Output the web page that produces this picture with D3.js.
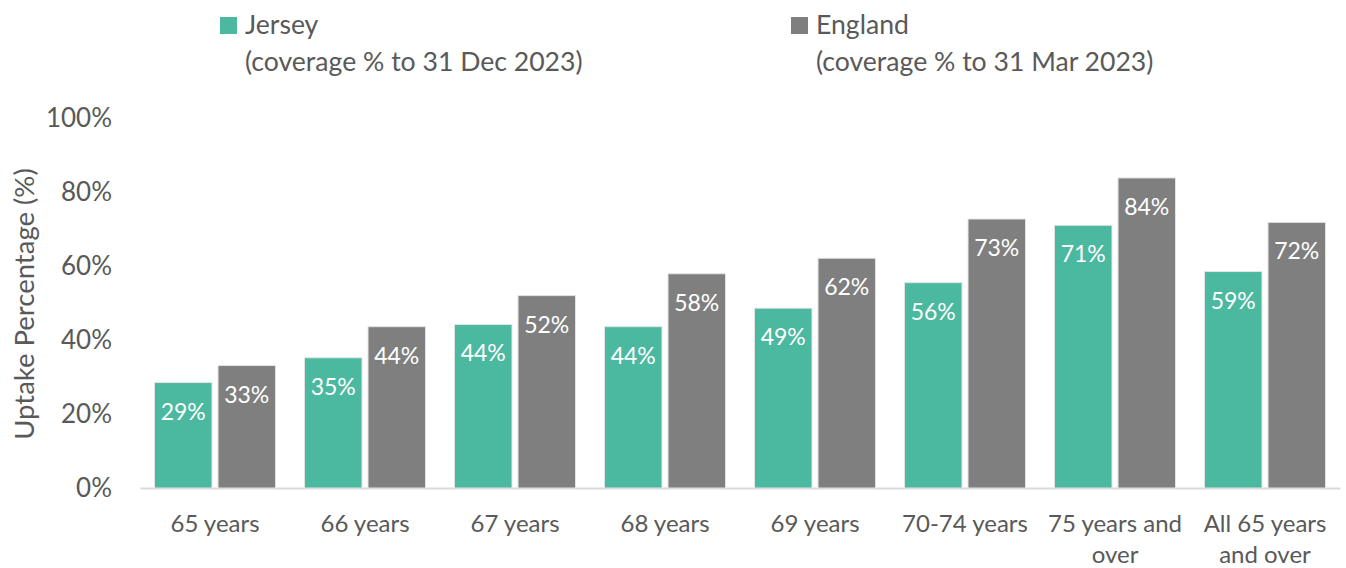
<!DOCTYPE html>
<html>
<head>
<meta charset="utf-8">
<script src="https://cdn.jsdelivr.net/npm/d3@7"></script>
<style>
  body { margin: 0; background: #fff; }
  text { font-family: Lato, "Open Sans", sans-serif; fill: #595959; }
</style>
</head>
<body>
<div id="chart"></div>
<script>
var svgWidth = 1346;
var svgHeight = 568;

var categories = ['65 years', '66 years', '67 years', '68 years', '69 years',
                  '70-74 years', '75 years and over', 'All 65 years and over'];
var jersey = [28.5, 35.2, 44.2, 43.6, 48.6, 55.5, 71.0, 58.5];
var england = [33.1, 43.6, 52.0, 57.9, 62.1, 72.7, 83.8, 71.8];
var seriesNames = ['Jersey', 'England'];
var seriesNotes = ['(coverage % to 31 Dec 2023)', '(coverage % to 31 Mar 2023)'];
var colors = ['#4bb8a0', '#7f7f7f'];
var yTicks = [0, 20, 40, 60, 80, 100];

var leftMargin = 140;
var rightMargin = 6;
var topMargin = 118;
var bottomMargin = 80;

var chartWidth = svgWidth - leftMargin - rightMargin;
var chartHeight = svgHeight - topMargin - bottomMargin;

var svg = d3.select('#chart')
    .append('svg')
    .attr('width', svgWidth)
    .attr('height', svgHeight);

var chart = svg.append('g')
    .attr('transform', `translate(${leftMargin}, ${topMargin})`);

var x = d3.scaleBand()
    .domain(categories)
    .range([0, 1200])
    .paddingInner(0.193)
    .paddingOuter(0.0965);

var xInner = d3.scaleBand()
    .domain(seriesNames)
    .range([0, x.bandwidth()])
    .paddingInner(0.095);

var y = d3.scaleLinear()
    .domain([0, 100])
    .range([chartHeight, 0]);

// y axis labels
var yAxis = chart.append('g')
    .call(d3.axisLeft(y).tickValues(yTicks).tickSize(0).tickPadding(28).tickFormat(d => d + '%'));
yAxis.select('.domain').remove();
yAxis.selectAll('text')
    .style('font-size', '26px')
    .style('font-family', 'Lato, sans-serif')
    .attr('fill', '#595959');

// x axis
var xAxis = chart.append('g')
    .attr('transform', `translate(0, ${chartHeight})`)
    .call(d3.axisBottom(x).tickSize(0).tickPadding(0));
xAxis.select('.domain')
    .attr('stroke', '#d9d9d9')
    .attr('stroke-width', 2);
xAxis.selectAll('text')
    .style('font-size', '24px')
    .style('font-family', 'Lato, sans-serif')
    .attr('fill', '#595959')
    .attr('dy', null)
    .attr('y', 44)
    .call(wrap, 148);

function wrap(sel, width) {
    sel.each(function() {
        var t = d3.select(this);
        var words = t.text().split(' ');
        t.text(null);
        var line = [];
        var lineNo = 0;
        var tspan = t.append('tspan').attr('x', 0).attr('y', 44);
        words.forEach(function(w) {
            line.push(w);
            tspan.text(line.join(' '));
            if (tspan.node().getComputedTextLength() > width && line.length > 1) {
                line.pop();
                tspan.text(line.join(' '));
                line = [w];
                lineNo++;
                tspan = t.append('tspan').attr('x', 0).attr('y', 44 + lineNo * 31).text(w);
            }
        });
    });
}

// bars
var groups = chart.selectAll('.group')
    .data(categories)
    .enter()
    .append('g')
    .attr('class', 'group')
    .attr('transform', d => `translate(${x(d)}, 0)`);

var bars = groups.selectAll('.bar')
    .data((d, i) => [{ s: 'Jersey', v: jersey[i], c: colors[0] }, { s: 'England', v: england[i], c: colors[1] }])
    .enter()
    .append('g')
    .attr('class', 'bar');

bars.append('rect')
    .attr('x', d => xInner(d.s))
    .attr('y', d => y(d.v))
    .attr('width', xInner.bandwidth())
    .attr('height', d => chartHeight - y(d.v))
    .attr('fill', d => d.c)
    .attr('stroke', '#e4e4e4')
    .attr('stroke-width', 1);

bars.append('text')
    .attr('x', d => xInner(d.s) + xInner.bandwidth() / 2)
    .attr('y', d => y(d.v) + 37)
    .attr('text-anchor', 'middle')
    .style('font-size', '23px')
    .style('fill', '#ffffff')
    .text(d => Math.round(d.v) + '%');

// y axis title
svg.append('text')
    .attr('transform', 'translate(34, 304) rotate(-90)')
    .attr('text-anchor', 'middle')
    .style('font-size', '27.5px')
    .text('Uptake Percentage (%)');

// legend
var legendX = [220, 791];
var legend = svg.selectAll('.legend')
    .data(seriesNames)
    .enter()
    .append('g')
    .attr('class', 'legend')
    .attr('transform', (d, i) => `translate(${legendX[i]}, 0)`);

legend.append('rect')
    .attr('x', 0)
    .attr('y', 17)
    .attr('width', 17)
    .attr('height', 17)
    .attr('fill', (d, i) => colors[i]);

legend.append('text')
    .attr('x', 25)
    .attr('y', 34)
    .style('font-size', '26.6px')
    .text(d => d);

legend.append('text')
    .attr('x', 25)
    .attr('y', 71)
    .style('font-size', '26.6px')
    .text((d, i) => seriesNotes[i]);
</script>
</body>
</html>
